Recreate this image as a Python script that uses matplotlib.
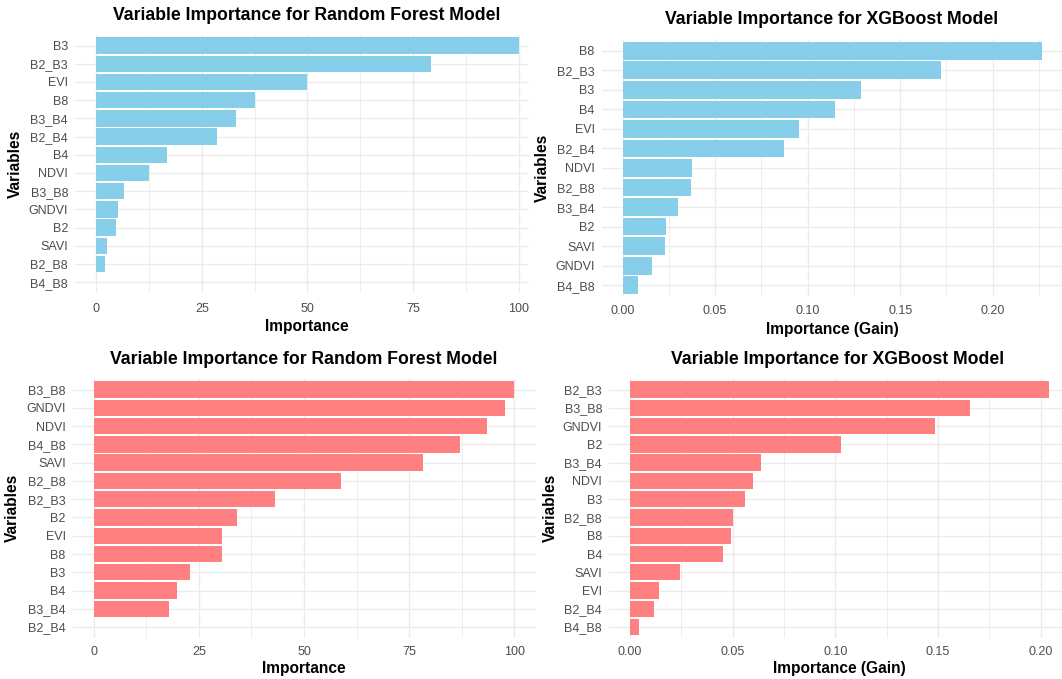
#!/usr/bin/env python

# Variable importance: random forest vs xgboost, two scenes (blue / red rows)

import matplotlib
matplotlib.use("Agg")
import matplotlib.pyplot as plt
from matplotlib.ticker import MultipleLocator

plt.rcParams['font.family'] = ['Liberation Sans', 'DejaVu Sans']

W, H = 1062, 679

# --- data, listed top to bottom as drawn ---
rf1_vars = ["B3", "B2_B3", "EVI", "B8", "B3_B4", "B2_B4", "B4", "NDVI",
            "B3_B8", "GNDVI", "B2", "SAVI", "B2_B8", "B4_B8"]
rf1_vals = [100, 79.1, 49.9, 37.5, 33.0, 28.5, 16.8, 12.5,
            6.7, 5.1, 4.7, 2.5, 2.1, 0.0]

xgb1_vars = ["B8", "B2_B3", "B3", "B4", "EVI", "B2_B4", "NDVI", "B2_B8",
             "B3_B4", "B2", "SAVI", "GNDVI", "B4_B8"]
xgb1_vals = [0.2265, 0.172, 0.1288, 0.1149, 0.0955, 0.0873, 0.0374, 0.0371,
             0.0298, 0.0236, 0.0230, 0.0159, 0.0082]

rf2_vars = ["B3_B8", "GNDVI", "NDVI", "B4_B8", "SAVI", "B2_B8", "B2_B3", "B2",
            "EVI", "B8", "B3", "B4", "B3_B4", "B2_B4"]
rf2_vals = [100, 97.8, 93.4, 87.1, 78.2, 58.7, 43.0, 34.1,
            30.6, 30.4, 22.8, 19.9, 17.9, 0.0]

xgb2_vars = ["B2_B3", "B3_B8", "GNDVI", "B2", "B3_B4", "NDVI", "B3", "B2_B8",
             "B8", "B4", "SAVI", "EVI", "B2_B4", "B4_B8"]
xgb2_vals = [0.2038, 0.1655, 0.1487, 0.1028, 0.0637, 0.0600, 0.0559, 0.0500,
             0.0493, 0.0454, 0.0245, 0.0143, 0.0118, 0.0043]

BLUE = "#87CEEB"
RED = "#FF8080"
GRID = "#EBEBEB"
TXT = "#4D4D4D"

# panel boxes in pixels: left, right, top, bottom ; x limits ; major step
panels = [
    dict(v=rf1_vars, x=rf1_vals, c=BLUE, box=(75, 529, 34.7, 293),
         xlim=(-5, 102.4), step=25, fmt="{:.0f}", xpad=7.0,
         title="Variable Importance for Random Forest Model", tpos=(306.5, 16),
         xlab="Importance", xlpos=(307, 326), ylpos=(15, 164)),
    dict(v=xgb1_vars, x=xgb1_vals, c=BLUE, box=(601.6, 1062.7, 39, 297),
         xlim=(-0.0113, 0.2378), step=0.05, fmt="{:.2f}", xpad=6.0,
         title="Variable Importance for XGBoost Model", tpos=(831.5, 19),
         xlab="Importance (Gain)", xlpos=(832, 329), ylpos=(542.5, 168)),
    dict(v=rf2_vars, x=rf2_vals, c=RED, box=(72.6, 535.5, 378.7, 638),
         xlim=(-5, 105), step=25, fmt="{:.0f}", xpad=5.5,
         title="Variable Importance for Random Forest Model", tpos=(304, 359),
         xlab="Importance", xlpos=(304, 669), ylpos=(12.5, 508)),
    dict(v=xgb2_vars, x=xgb2_vals, c=RED, box=(609, 1069.6, 378.7, 638),
         xlim=(-0.0102, 0.214), step=0.05, fmt="{:.2f}", xpad=5.5,
         title="Variable Importance for XGBoost Model", tpos=(838, 359),
         xlab="Importance (Gain)", xlpos=(839, 669), ylpos=(550, 508)),
]

fig = plt.figure(figsize=(W / 100, H / 100), dpi=100)
fig.patch.set_facecolor("white")

for p in panels:
    l, r, t, b = p["box"]
    ax = fig.add_axes([l / W, 1 - b / H, (r - l) / W, (b - t) / H])
    ax.set_facecolor("none")
    n = len(p["v"])
    ypos = list(range(n, 0, -1))
    ax.barh(ypos, p["x"], height=0.9, color=p["c"], zorder=2)
    ax.set_ylim(0.4, n + 0.6)
    ax.set_xlim(*p["xlim"])
    ax.set_yticks(ypos)
    ax.set_yticklabels(p["v"])
    ax.xaxis.set_major_locator(MultipleLocator(p["step"]))
    ax.xaxis.set_minor_locator(MultipleLocator(p["step"] / 2))
    ticks = [tk for tk in ax.get_xticks() if p["xlim"][0] <= tk <= p["xlim"][1]]
    ax.set_xticks(ticks)
    ax.set_xticklabels([p["fmt"].format(tk) for tk in ticks])
    ax.grid(True, which="major", color=GRID, lw=1.0, zorder=0)
    ax.grid(True, which="minor", axis="x", color=GRID, lw=0.6, zorder=0)
    ax.set_axisbelow(True)
    for s in ax.spines.values():
        s.set_visible(False)
    ax.tick_params(axis="both", which="both", length=0, labelsize=9, labelcolor=TXT)
    ax.tick_params(axis="y", pad=5)
    ax.tick_params(axis="x", pad=p["xpad"])

    fig.text(p["tpos"][0] / W, 1 - p["tpos"][1] / H, p["title"], ha="center",
             va="center", fontsize=12.7, fontweight="bold", color="black")
    fig.text(p["xlpos"][0] / W, 1 - p["xlpos"][1] / H, p["xlab"], ha="center",
             va="center", fontsize=11.2, fontweight="bold", color="black")
    fig.text(p["ylpos"][0] / W, 1 - p["ylpos"][1] / H, "Variables", ha="center",
             va="center", rotation=90, fontsize=11.2, fontweight="bold",
             color="black")

fig.savefig("out.png", dpi=100)
